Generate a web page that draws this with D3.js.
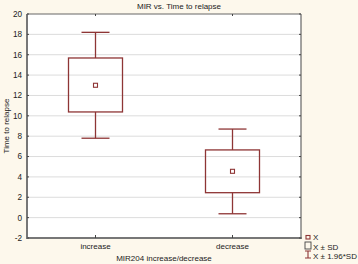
<!DOCTYPE html>
<html><head><meta charset="utf-8">
<script src="https://cdn.jsdelivr.net/npm/d3@7"></script>
<style>body{margin:0;background:#fdf8ec;}svg{display:block;font-family:"Liberation Sans",Arial,sans-serif;}</style>
</head><body><svg id="c" width="358" height="264"></svg>
<script>
const categories = ["increase", "decrease"];
const means = [13.0, 4.55];
const sdLow = [10.38, 2.45];
const sdHigh = [15.68, 6.65];
const ciLow = [7.8, 0.38];
const ciHigh = [18.2, 8.7];
const yTicks = [-2, 0, 2, 4, 6, 8, 10, 12, 14, 16, 18, 20];
const title = "MIR vs. Time to relapse";
const xTitle = "MIR204 increase/decrease";
const yTitle = "Time to relapse";
const legendItems = ["X", "X ± SD", "X ± 1.96*SD"];

const svg = d3.select("#c");
const L = 27, R = 301, T = 14, B = 238;
const col = "#8e3535";
const x = d3.scaleBand().domain(categories).range([L, R]);
const y = d3.scaleLinear().domain([-2, 20]).range([B, T]);

svg.append("rect").attr("x", L).attr("y", T).attr("width", R - L).attr("height", B - T).attr("fill", "#fff");
// grid
svg.append("g").selectAll("line").data(yTicks.filter(d => d > -2 && d < 20)).join("line")
  .attr("x1", L).attr("x2", R).attr("y1", d => y(d)).attr("y2", d => y(d))
  .attr("stroke", "#dcdcdc").attr("stroke-width", 1);

// boxes
const g = svg.append("g").attr("stroke", col).attr("fill", "none").attr("stroke-width", 1.3);
categories.forEach((c, i) => {
  const cx = x(c) + x.bandwidth() / 2;
  const bw = 54, cw = 28;
  g.append("line").attr("x1", cx).attr("x2", cx).attr("y1", y(ciHigh[i])).attr("y2", y(sdHigh[i]));
  g.append("line").attr("x1", cx).attr("x2", cx).attr("y1", y(sdLow[i])).attr("y2", y(ciLow[i]));
  g.append("line").attr("x1", cx - cw / 2).attr("x2", cx + cw / 2).attr("y1", y(ciHigh[i])).attr("y2", y(ciHigh[i]));
  g.append("line").attr("x1", cx - cw / 2).attr("x2", cx + cw / 2).attr("y1", y(ciLow[i])).attr("y2", y(ciLow[i]));
  g.append("rect").attr("x", cx - bw / 2).attr("y", y(sdHigh[i])).attr("width", bw).attr("height", y(sdLow[i]) - y(sdHigh[i]));
  g.append("rect").attr("x", cx - 2).attr("y", y(means[i]) - 2).attr("width", 4).attr("height", 4).attr("stroke-width", 1.1);
});

// frame
svg.append("line").attr("x1", L).attr("x2", R).attr("y1", T).attr("y2", T).attr("stroke", "#666").attr("stroke-width", 1);
svg.append("line").attr("x1", R).attr("x2", R).attr("y1", T).attr("y2", B).attr("stroke", "#666").attr("stroke-width", 1.2);
svg.append("line").attr("x1", L).attr("x2", L).attr("y1", T).attr("y2", B + 1).attr("stroke", "#777").attr("stroke-width", 2);
svg.append("line").attr("x1", L).attr("x2", R + 1).attr("y1", B).attr("y2", B).attr("stroke", "#777").attr("stroke-width", 2);

// ticks on right and top
svg.append("g").selectAll("line").data(yTicks).join("line")
  .attr("x1", R - 2).attr("x2", R).attr("y1", d => y(d)).attr("y2", d => y(d)).attr("stroke", "#444");
svg.append("g").selectAll("line").data(yTicks).join("line")
  .attr("x1", L).attr("x2", L + 2).attr("y1", d => y(d)).attr("y2", d => y(d)).attr("stroke", "#444");
svg.append("g").selectAll("line").data(categories).join("line")
  .attr("x1", d => x(d) + x.bandwidth() / 2).attr("x2", d => x(d) + x.bandwidth() / 2)
  .attr("y1", T).attr("y2", T + 2).attr("stroke", "#444");
svg.append("g").selectAll("line").data(categories).join("line")
  .attr("x1", d => x(d) + x.bandwidth() / 2).attr("x2", d => x(d) + x.bandwidth() / 2)
  .attr("y1", B - 3).attr("y2", B).attr("stroke", "#444");

// y tick labels
svg.append("g").selectAll("text").data(yTicks).join("text")
  .attr("x", 22).attr("y", d => y(d)).attr("dy", "0.35em").attr("text-anchor", "end")
  .attr("font-size", 8.2).attr("fill", "#222").text(d => d);
// x tick labels
svg.append("g").selectAll("text").data(categories).join("text")
  .attr("x", d => x(d) + x.bandwidth() / 2).attr("y", 249).attr("text-anchor", "middle")
  .attr("font-size", 8).attr("fill", "#222").text(d => d);

svg.append("text").attr("x", 179).attr("y", 8.5).attr("text-anchor", "middle").attr("font-size", 8).attr("fill", "#222").text(title);
svg.append("text").attr("x", 164).attr("y", 261).attr("text-anchor", "middle").attr("font-size", 8).attr("fill", "#222").text(xTitle);
svg.append("text").attr("transform", "translate(9,126) rotate(-90)").attr("text-anchor", "middle").attr("font-size", 8).attr("fill", "#222").text(yTitle);

// legend
const lg = svg.append("g");
const ly = [239, 248.5, 257.5];
lg.append("rect").attr("x", 306).attr("y", ly[0] - 3.5).attr("width", 4).attr("height", 3.5).attr("fill", "none").attr("stroke", col).attr("stroke-width", 1.1);
lg.append("rect").attr("x", 305).attr("y", ly[1] - 6.5).attr("width", 6).attr("height", 7).attr("fill", "none").attr("stroke", "#444").attr("stroke-width", 0.9);
lg.append("path").attr("d", `M305,${ly[2]-6.5}H311M308,${ly[2]-6.5}V${ly[2]+0.5}M305,${ly[2]+0.5}H311`).attr("fill", "none").attr("stroke", col).attr("stroke-width", 1.1);
lg.selectAll("text").data(legendItems).join("text")
  .attr("x", 313).attr("y", (d, i) => ly[i] + 1).attr("font-size", 8).attr("fill", "#222").text(d => d);
</script></body></html>
